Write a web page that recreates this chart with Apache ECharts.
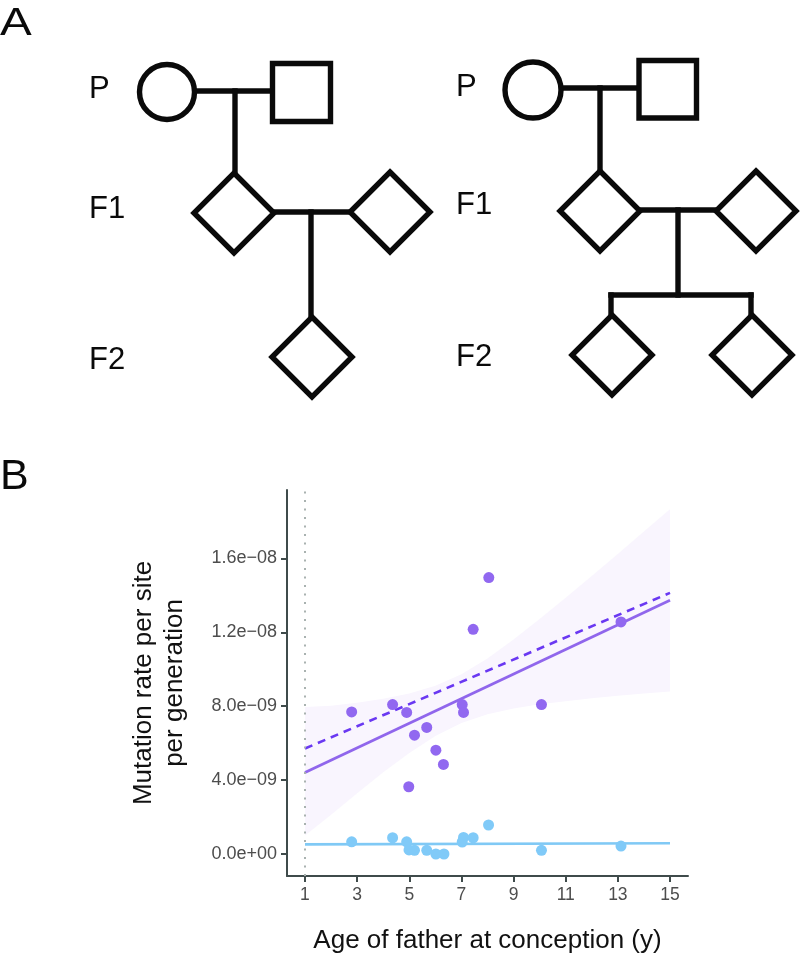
<!DOCTYPE html>
<html>
<head>
<meta charset="utf-8">
<script src="https://cdn.jsdelivr.net/npm/echarts@6/dist/echarts.min.js"></script>
<style>
html,body{margin:0;padding:0;background:#fff;}
#chart{width:800px;height:957px;}
</style>
</head>
<body>
<div id="chart"></div>
<script>
// ---- data ----
const fatherAge = [2.79, 4.36, 4.90, 5.20, 5.67, 6.02, 6.31, 4.98, 7.03, 7.08, 10.07, 8.05, 7.45, 13.12];
const purpleRates = [7.69e-9, 8.09e-9, 7.66e-9, 6.43e-9, 6.85e-9, 5.62e-9, 4.85e-9, 3.64e-9, 8.09e-9, 7.66e-9, 8.09e-9, 14.96e-9, 12.16e-9, 12.56e-9];
const blueAge = [2.79, 4.36, 4.90, 4.99, 5.20, 5.67, 6.02, 6.33, 7.03, 7.08, 7.45, 8.04, 10.07, 13.12];
const blueRates = [0.66e-9, 0.88e-9, 0.66e-9, 0.22e-9, 0.20e-9, 0.20e-9, 0.0, 0.0, 0.65e-9, 0.90e-9, 0.88e-9, 1.57e-9, 0.20e-9, 0.43e-9];

const fitAges = [1, 15];
const purpleFit = [4.41e-9, 13.73e-9];
const purpleDashed = [5.71e-9, 14.13e-9];
const blueFit = [0.52e-9, 0.58e-9];

const bandAges = [1, 2, 3, 4, 5, 6, 7, 8, 9, 10, 11, 12, 13, 14, 15];
const bandLower = [1.00e-9, 2.13e-9, 3.29e-9, 4.42e-9, 5.46e-9, 6.38e-9, 7.09e-9, 7.56e-9, 7.87e-9, 8.10e-9, 8.27e-9, 8.43e-9, 8.56e-9, 8.69e-9, 8.80e-9];
const bandUpper = [7.95e-9, 8.03e-9, 8.19e-9, 8.40e-9, 8.68e-9, 9.10e-9, 9.73e-9, 10.58e-9, 11.61e-9, 12.72e-9, 13.87e-9, 15.05e-9, 16.24e-9, 17.45e-9, 18.66e-9];

const xTicks = [1, 3, 5, 7, 9, 11, 13, 15];
const yTicks = [0, 4e-9, 8e-9, 1.2e-8, 1.6e-8];

// ---- helpers ----
function fmtSci(v) {
  if (v === 0) return '0.0e+00';
  const s = v.toExponential(1);
  const [m, e] = s.split('e');
  const n = parseInt(e, 10);
  const sign = n < 0 ? '\u2212' : '+';
  const abs = Math.abs(n);
  return m + 'e' + sign + (abs < 10 ? '0' + abs : '' + abs);
}
const pair = (xs, ys) => xs.map((x, i) => [x, ys[i]]);

// ---- pedigree drawing (panel A) ----
const K = '#0a0a0a';
const SW = 5.4;
const PFONT = '"Liberation Sans", Arial, sans-serif';
function line(x1, y1, x2, y2) {
  return { type: 'line', shape: { x1, y1, x2, y2 }, style: { stroke: K, lineWidth: SW, lineCap: 'square' } };
}
function diamond(cx, cy, r) {
  return { type: 'polygon', shape: { points: [[cx, cy - r], [cx + r, cy], [cx, cy + r], [cx - r, cy]] },
           style: { stroke: K, lineWidth: SW, fill: '#fff', lineJoin: 'miter' } };
}
function label(t, x, y, size) {
  return { type: 'text', x, y, style: { text: t, fill: K, fontSize: size, fontFamily: PFONT, verticalAlign: 'middle' } };
}
const ped = [
  { type: 'text', x: 0, y: 24, scaleX: 1.22, style: { text: 'A', fill: K, fontSize: 39, fontFamily: PFONT, verticalAlign: 'middle' } },
  { type: 'text', x: 0, y: 477, style: { text: 'B', fill: K, fontSize: 43, fontFamily: PFONT, verticalAlign: 'middle' } },
  // left pedigree
  label('P', 89, 89, 31), label('F1', 89, 209, 31), label('F2', 89, 360, 31),
  line(195, 91, 272, 91),
  line(235, 91, 235, 172),
  line(275, 212, 348, 212),
  line(311, 212, 311, 315),
  { type: 'circle', shape: { cx: 167, cy: 92, r: 27.5 }, style: { stroke: K, lineWidth: SW, fill: '#fff' } },
  { type: 'rect', shape: { x: 272.5, y: 63.5, width: 58, height: 58 }, style: { stroke: K, lineWidth: SW, fill: '#fff' } },
  diamond(234, 213, 40), diamond(390, 212, 40), diamond(312, 357, 40),
  // right pedigree
  label('P', 456, 87, 31), label('F1', 456, 205, 31), label('F2', 456, 357, 31),
  line(560, 88, 640, 88),
  line(600, 88, 600, 168),
  line(641, 210, 714, 210),
  line(678, 210, 678, 295),
  line(611, 295, 751, 295),
  line(611, 295, 611, 313),
  line(751, 295, 751, 313),
  { type: 'circle', shape: { cx: 533, cy: 90, r: 28 }, style: { stroke: K, lineWidth: SW, fill: '#fff' } },
  { type: 'rect', shape: { x: 639, y: 60.5, width: 57.5, height: 57.5 }, style: { stroke: K, lineWidth: SW, fill: '#fff' } },
  diamond(600, 211, 40), diamond(756, 211, 40), diamond(612, 355, 40), diamond(752, 355, 40)
];

// ---- chart ----
const chart = echarts.init(document.getElementById('chart'), null, { renderer: 'canvas' });
const axisCol = '#3f4b4b';
const FONT = '"Liberation Sans", Arial, Helvetica, sans-serif';

chart.setOption({
  animation: false,
  backgroundColor: '#fff',
  textStyle: { fontFamily: FONT },
  graphic: ped,
  grid: { left: 287, right: 112, top: 490, bottom: 81, containLabel: false },
  xAxis: {
    type: 'value', min: 0.31, max: 15.69,
    splitLine: { show: false },
    axisLine: { onZero: false, lineStyle: { color: axisCol, width: 2 } },
    axisTick: { show: true, length: 6, customValues: xTicks, lineStyle: { color: axisCol, width: 2 } },
    axisLabel: { customValues: xTicks, color: '#4d4d4d', fontSize: 17.5, margin: 10, fontFamily: FONT },
    name: 'Age of father at conception (y)', nameLocation: 'middle', nameGap: 52,
    nameTextStyle: { color: '#111', fontSize: 26, fontFamily: FONT }
  },
  yAxis: {
    type: 'value', min: -1.19e-9, max: 19.7e-9,
    splitLine: { show: false },
    axisLine: { onZero: false, lineStyle: { color: axisCol, width: 2 } },
    axisTick: { show: true, length: 6, customValues: yTicks, lineStyle: { color: axisCol, width: 2 } },
    axisLabel: { customValues: yTicks, color: '#4d4d4d', fontSize: 18, margin: 10, fontFamily: FONT, formatter: fmtSci },
    name: 'Mutation rate per site\nper generation', nameLocation: 'middle', nameGap: 97,
    nameTextStyle: { color: '#111', fontSize: 26, lineHeight: 31, fontFamily: FONT }
  },
  series: [
    {
      type: 'custom', silent: true, clip: true, z: 1,
      data: [[bandAges[0], bandLower[0]]],
      renderItem: function (params, api) {
        const pts = [];
        for (let i = 0; i < bandAges.length; i++) pts.push(api.coord([bandAges[i], bandUpper[i]]));
        for (let i = bandAges.length - 1; i >= 0; i--) pts.push(api.coord([bandAges[i], bandLower[i]]));
        return { type: 'polygon', shape: { points: pts }, style: { fill: '#f9f5fe', stroke: null } };
      },
      markLine: {
        silent: true, symbol: 'none', label: { show: false },
        lineStyle: { color: '#a9b2b0', width: 2, type: [2, 6.5] },
        data: [{ xAxis: 1 }]
      }
    },
    { type: 'line', data: pair(fitAges, blueFit), symbol: 'none', lineStyle: { color: '#80c9f5', width: 2.6 }, z: 2 },
    { type: 'line', data: pair(fitAges, purpleFit), symbol: 'none', lineStyle: { color: '#9066ec', width: 2.8 }, z: 2 },
    { type: 'line', data: pair(fitAges, purpleDashed), symbol: 'none', lineStyle: { color: '#6a38f2', width: 2.6, type: [8, 6] }, z: 2 },
    { type: 'scatter', data: pair(blueAge, blueRates), symbolSize: 11, itemStyle: { color: '#80caf8', opacity: 1 }, z: 3 },
    { type: 'scatter', data: pair(fatherAge, purpleRates), symbolSize: 11, itemStyle: { color: '#9168f0', opacity: 1 }, z: 3 }
  ]
});
</script>
</body>
</html>
